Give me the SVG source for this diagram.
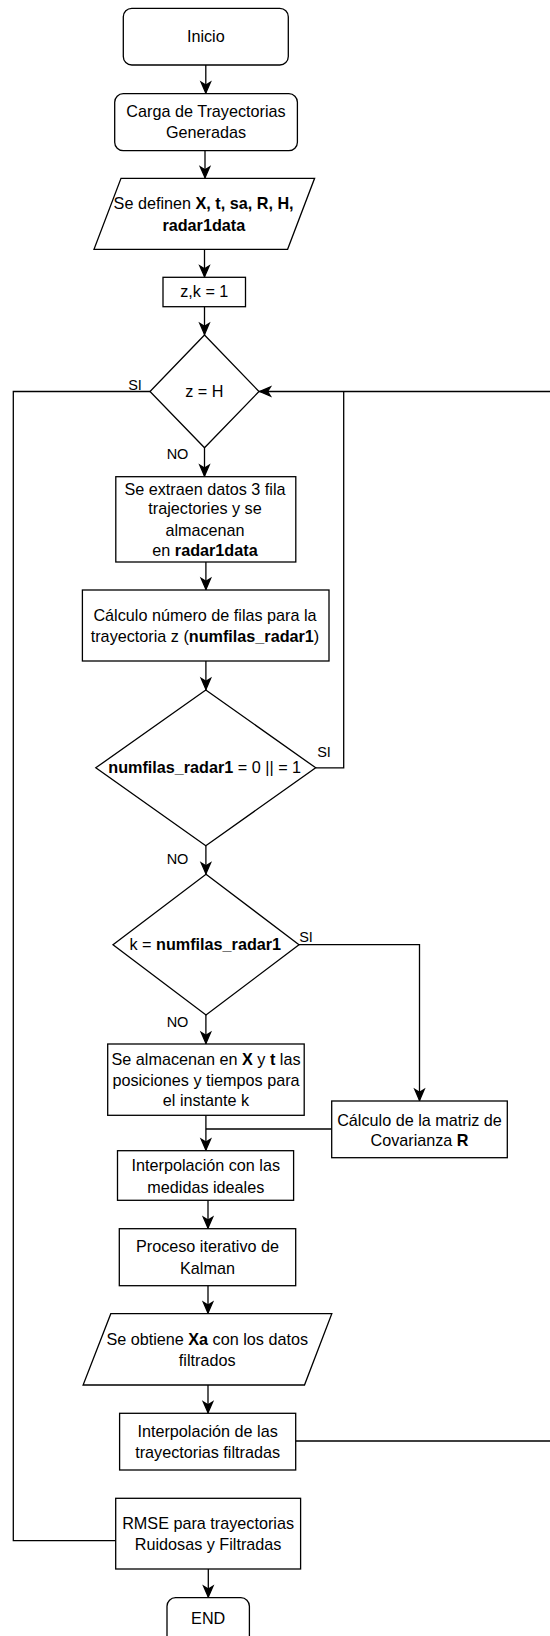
<svg xmlns="http://www.w3.org/2000/svg" width="550" height="1636" viewBox="0 0 550 1636">
  <style>
    .box { fill: #ffffff; stroke: #000000; stroke-width: 1.3; }
    .edge { fill: none; stroke: #000000; stroke-width: 1.3; }
    .t { font-family: "Liberation Sans", Arial, Helvetica, sans-serif; font-size: 16.2px; fill: #000000; text-anchor: middle; }
    .lbl { font-family: "Liberation Sans", Arial, Helvetica, sans-serif; font-size: 14.5px; fill: #000000; text-anchor: middle; }
    .b { font-weight: bold; }
  </style>
  <defs>
    <marker id="arrow" markerUnits="userSpaceOnUse" markerWidth="16" markerHeight="14" viewBox="-13 -7 16 14" refX="0" refY="0" orient="auto" overflow="visible">
      <path d="M-0.6,0 L-11.5,-4.7 L-8.6,0 L-11.5,4.7 Z" fill="#000000" stroke="#000000" stroke-width="1.3" stroke-linejoin="miter"/>
    </marker>
  </defs>

  <rect width="550" height="1636" fill="#ffffff"/>

  <!-- connectors -->
  <g id="connectors">
    <path class="edge" d="M205.8,65 V93.7" marker-end="url(#arrow)"/>
    <path class="edge" d="M205,150.7 V178.3" marker-end="url(#arrow)"/>
    <path class="edge" d="M204.5,249.3 V277.3" marker-end="url(#arrow)"/>
    <path class="edge" d="M204.5,306.7 V335" marker-end="url(#arrow)"/>
    <path class="edge" d="M204.5,447.7 V476.7" marker-end="url(#arrow)"/>
    <path class="edge" d="M205.9,562 V590" marker-end="url(#arrow)"/>
    <path class="edge" d="M205.9,661 V690" marker-end="url(#arrow)"/>
    <!-- SI branch of the row-count test returns to the loop head -->
    <path class="edge" d="M315.7,767.8 H343.7 V391.5"/>
    <!-- loop back from the filtered interpolation to z = H -->
    <path class="edge" d="M295.7,1441 H560 V391.5 H259" marker-end="url(#arrow)"/>
    <path class="edge" d="M205.9,845.7 V874.3" marker-end="url(#arrow)"/>
    <path class="edge" d="M299,944.7 H419.5 V1101" marker-end="url(#arrow)"/>
    <path class="edge" d="M205.9,1015 V1044" marker-end="url(#arrow)"/>
    <path class="edge" d="M205.9,1115.3 V1150.7" marker-end="url(#arrow)"/>
    <path class="edge" d="M331.7,1129 H205.9"/>
    <path class="edge" d="M208,1200.3 V1228.7" marker-end="url(#arrow)"/>
    <path class="edge" d="M208,1285.7 V1313.7" marker-end="url(#arrow)"/>
    <path class="edge" d="M208,1385 V1413.3" marker-end="url(#arrow)"/>
    <!-- SI branch of z = H to the RMSE step -->
    <path class="edge" d="M150,391.5 H13.3 V1540.7 H115.7"/>
    <path class="edge" d="M208.3,1569 V1597.7" marker-end="url(#arrow)"/>

    <text class="lbl" x="135" y="390">SI</text>
    <text class="lbl" x="177.5" y="459">NO</text>
    <text class="lbl" x="324" y="756.7">SI</text>
    <text class="lbl" x="177.5" y="864">NO</text>
    <text class="lbl" x="306" y="941.7">SI</text>
    <text class="lbl" x="177.5" y="1026.7">NO</text>
  </g>

  <g id="inicio">
    <rect class="box" x="123.3" y="8.3" width="165" height="56.7" rx="8.5" ry="8.5"/>
    <text class="t" x="205.8" y="41.5">Inicio</text>
  </g>

  <g id="carga">
    <rect class="box" x="114.7" y="93.7" width="182.7" height="57" rx="8.5" ry="8.5"/>
    <text class="t" x="206" y="117.2">Carga de Trayectorias</text>
    <text class="t" x="206" y="137.8">Generadas</text>
  </g>

  <g id="definir">
    <polygon class="box" points="121,178.3 314.6,178.3 287.6,249.3 94,249.3"/>
    <text class="t" x="203.6" y="208.8">Se definen <tspan class="b">X, t, sa, R, H,</tspan></text>
    <text class="t b" x="203.8" y="231.2">radar1data</text>
  </g>

  <g id="init-zk">
    <rect class="box" x="163" y="277.3" width="82.5" height="29.4"/>
    <text class="t" x="204.3" y="297.2">z,k = 1</text>
  </g>

  <g id="test-z">
    <polygon class="box" points="204.5,335 259,391.5 204.5,447.7 150,391.5"/>
    <text class="t" x="204.4" y="397.2">z = H</text>
  </g>

  <g id="extraer">
    <rect class="box" x="115.8" y="476.7" width="180" height="85.3"/>
    <text class="t" x="205" y="494.8">Se extraen datos 3 fila</text>
    <text class="t" x="205" y="514.2">trajectories y se</text>
    <text class="t" x="205" y="535.5">almacenan</text>
    <text class="t" x="205" y="556.2">en <tspan class="b">radar1data</tspan></text>
  </g>

  <g id="calculo-filas">
    <rect class="box" x="82.4" y="590" width="246.6" height="71"/>
    <text class="t" x="205" y="620.5">Cálculo número de filas para la</text>
    <text class="t" x="205" y="642.2">trayectoria z (<tspan class="b">numfilas_radar1</tspan>)</text>
  </g>

  <g id="test-filas">
    <polygon class="box" points="205.8,690 315.7,767.8 205.8,845.7 95.8,767.8"/>
    <text class="t" x="204.7" y="772.8"><tspan class="b">numfilas_radar1</tspan> = 0 || = 1</text>
  </g>

  <g id="test-k">
    <polygon class="box" points="206,874.3 299,944.7 206,1015 113,944.7"/>
    <text class="t" x="205.3" y="950.3">k = <tspan class="b">numfilas_radar1</tspan></text>
  </g>

  <g id="almacenar">
    <rect class="box" x="107.7" y="1044" width="196.5" height="71.3"/>
    <text class="t" x="206" y="1064.8">Se almacenan en <tspan class="b">X</tspan> y <tspan class="b">t</tspan> las</text>
    <text class="t" x="206" y="1085.5">posiciones y tiempos para</text>
    <text class="t" x="206" y="1106.2">el instante k</text>
  </g>

  <g id="covarianza">
    <rect class="box" x="331.7" y="1101" width="175.6" height="56.7"/>
    <text class="t" x="419.5" y="1125.5">Cálculo de la matriz de</text>
    <text class="t" x="419.5" y="1146.2">Covarianza <tspan class="b">R</tspan></text>
  </g>

  <g id="interp-ideal">
    <rect class="box" x="117.5" y="1150.7" width="176.1" height="49.6"/>
    <text class="t" x="205.8" y="1171.2">Interpolación con las</text>
    <text class="t" x="205.8" y="1192.8">medidas ideales</text>
  </g>

  <g id="kalman">
    <rect class="box" x="119.3" y="1228.7" width="176.4" height="57"/>
    <text class="t" x="207.5" y="1252.2">Proceso iterativo de</text>
    <text class="t" x="207.5" y="1273.8">Kalman</text>
  </g>

  <g id="salida-xa">
    <polygon class="box" points="110.8,1313.7 331.8,1313.7 304.5,1385 83.1,1385"/>
    <text class="t" x="207.2" y="1344.8">Se obtiene <tspan class="b">Xa</tspan> con los datos</text>
    <text class="t" x="207.2" y="1365.5">filtrados</text>
  </g>

  <g id="interp-filtradas">
    <rect class="box" x="119.6" y="1413.3" width="176.1" height="56.7"/>
    <text class="t" x="207.6" y="1437.2">Interpolación de las</text>
    <text class="t" x="207.6" y="1458.2">trayectorias filtradas</text>
  </g>

  <g id="rmse">
    <rect class="box" x="115.7" y="1498.3" width="184.9" height="70.7"/>
    <text class="t" x="208.1" y="1528.8">RMSE para trayectorias</text>
    <text class="t" x="208.1" y="1549.8">Ruidosas y Filtradas</text>
  </g>

  <g id="end">
    <rect class="box" x="167" y="1597.7" width="82.4" height="56" rx="8.5" ry="8.5"/>
    <text class="t" x="208.2" y="1623.8">END</text>
  </g>
</svg>
